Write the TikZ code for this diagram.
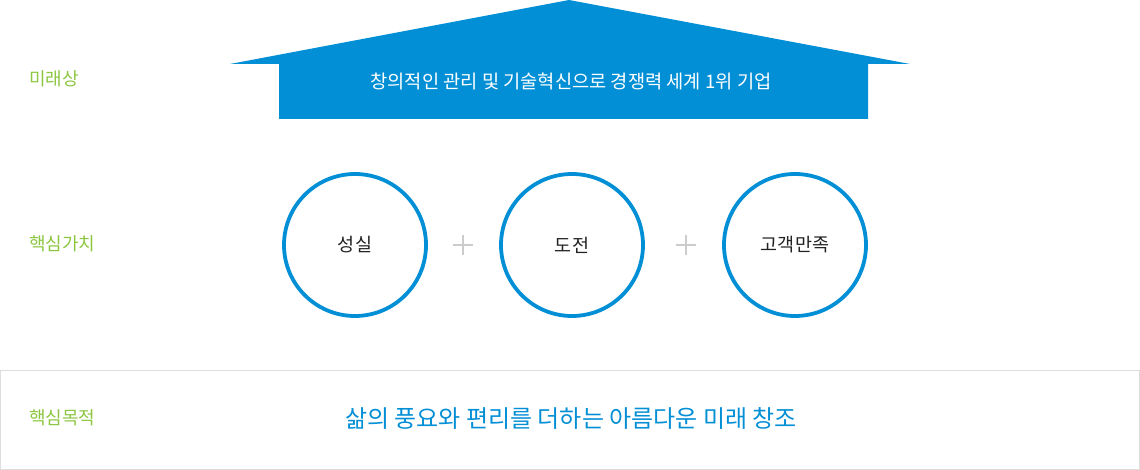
\documentclass[tikz,border=0pt]{standalone}
\usepackage{fontspec}
\setmainfont{Noto Sans CJK KR}
\usetikzlibrary{positioning,calc}
\definecolor{mainblue}{HTML}{038FD5}
\definecolor{labelgreen}{HTML}{8CC63F}
\definecolor{plusgray}{HTML}{CCCCCC}
\definecolor{framegray}{HTML}{DDDDDD}
\definecolor{textdark}{HTML}{222222}
\tikzset{
  rowlabel/.style={anchor=west, text=labelgreen, font=\fontsize{18}{21}\selectfont, inner sep=0pt},
  valuecircle/.style={circle, draw=mainblue, line width=3.8pt, minimum size=142pt, inner sep=0pt,
    text=textdark, font=\fontsize{18.5}{22}\selectfont},
  plussign/.style={plusgray, line width=2pt}
}
\begin{document}
\begin{tikzpicture}[x=1pt, y=-1pt]
  \useasboundingbox (0,0) rectangle (1140,470);

  % Arrow (vision)
  \fill[mainblue] (569,0) -- (910,64) -- (868,64) -- (868,119) -- (279,119) -- (279,64) -- (230,64) -- cycle;
  \node[text=white, font=\fontsize{18.7}{22}\selectfont] (vision) at (571,81) {창의적인 관리 및 기술혁신으로 경쟁력 세계 1위 기업};

  % Row labels
  \node[rowlabel] (lbvision) at (29,79) {미래상};
  \node[rowlabel] (lbvalue) at (29,244) {핵심가치};
  \node[rowlabel] (lbpurpose) at (29,418) {핵심목적};

  % Value circles
  \foreach \name/\x/\label in {sincere/355/성실, challenge/572/도전, customer/795/고객만족}
    \node[valuecircle] (\name) at (\x,245) {\label};

  % Plus signs
  \foreach \x in {463,686} {
    \draw[plussign] (\x-10,245) -- (\x+10,245);
    \draw[plussign] (\x,235) -- (\x,255);
  }

  % Purpose box
  \draw[framegray, line width=1pt] (0.5,370.5) rectangle (1139.5,469.5);
  \node[text=mainblue, font=\fontsize{24}{28}\selectfont] (purpose) at (571,418) {삶의 풍요와 편리를 더하는 아름다운 미래 창조};
\end{tikzpicture}
\end{document}
